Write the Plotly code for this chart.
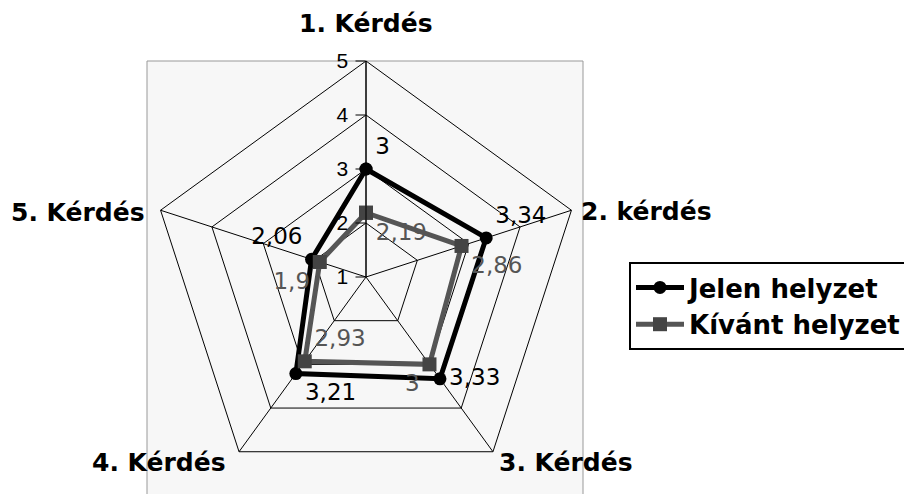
import plotly.graph_objects as go

categories = ["1. Kérdés", "2. kérdés", "3. Kérdés", "4. Kérdés", "5. Kérdés"]
jelen = [3, 3.34, 3.33, 3.21, 2.06]
kivant = [2.19, 2.86, 3, 2.93, 1.9]
radial_ticks = [1, 2, 3, 4, 5]

def fmt(v):
    return f"{v:g}".replace(".", ",")

def closed(vals):
    return list(vals) + [vals[0]]

theta = closed(categories)

fig = go.Figure()

fig.add_trace(go.Scatterpolar(
    r=closed(jelen), theta=theta, name="Jelen helyzet",
    mode="lines+markers+text",
    text=[fmt(v) for v in jelen] + [""],
    textposition=["top right", "top right", "middle right", "bottom right", "top left", "top left"],
    textfont=dict(family="DejaVu Sans", size=23, color="#000000"),
    line=dict(color="#000000", width=5),
    marker=dict(symbol="circle", size=13, color="#000000"),
    cliponaxis=False,
))

fig.add_trace(go.Scatterpolar(
    r=closed(kivant), theta=theta, name="Kívánt helyzet",
    mode="lines+markers+text",
    text=[fmt(v) for v in kivant] + [""],
    textposition=["bottom right", "bottom right", "bottom left", "top right", "bottom left", "bottom left"],
    textfont=dict(family="DejaVu Sans", size=23, color="#555555"),
    line=dict(color="#555555", width=5),
    marker=dict(symbol="square", size=14, color="#444444"),
    cliponaxis=False,
))

W, H = 912, 494
OFF = 8  # page offset of the figure in the screenshot
cx, cy, R = 366 - OFF, 277 - OFF, 216

# category label placement (layout only): (x, y, xanchor, yanchor) in screenshot pixels
label_pos = [(366, 8, "center", "top"), (580, 211, "left", "middle"), (498, 462, "left", "middle"),
             (227, 462, "right", "middle"), (146, 212, "right", "middle")]

annotations = []
for name, (px, py, xa, ya) in zip(categories, label_pos):
    annotations.append(dict(
        text=name, xref="paper", yref="paper",
        x=(px - OFF) / W, y=1 - (py - OFF) / H,
        xanchor=xa, yanchor=ya, showarrow=False, borderpad=0,
        font=dict(family="DejaVu Sans", size=25, color="#000000", weight="bold"),
    ))

fig.update_layout(
    width=W, height=H,
    margin=dict(l=0, r=0, t=0, b=0),
    paper_bgcolor="white",
    plot_bgcolor="white",
    showlegend=True,
    legend=dict(
        x=(629 - OFF) / W, y=1 - (262 - OFF) / H, xanchor="left", yanchor="top",
        bgcolor="white", bordercolor="#000000", borderwidth=2,
        font=dict(family="DejaVu Sans", size=26, color="#000000", weight="bold"),
        itemwidth=48, tracegroupgap=0,
    ),
    annotations=annotations,
    shapes=[dict(
        type="rect", xref="paper", yref="paper",
        x0=(147 - OFF) / W, x1=(583 - OFF) / W, y0=-0.05, y1=1 - (61 - OFF) / H,
        fillcolor="#f7f7f7", line=dict(color="#999999", width=1), layer="below",
    )],
    polar=dict(
        domain=dict(x=[(cx - R) / W, (cx + R) / W], y=[(H - cy - R) / H, (H - cy + R) / H]),
        bgcolor="rgba(0,0,0,0)",
        gridshape="linear",
        radialaxis=dict(
            range=[1, 5], tickvals=radial_ticks, ticktext=[str(t) for t in radial_ticks],
            angle=90, tickangle=90, side="counterclockwise",
            showline=True, linecolor="#000000", linewidth=1,
            gridcolor="#000000", gridwidth=1,
            ticks="outside", ticklen=10, tickcolor="#000000",
            tickfont=dict(family="Liberation Sans", size=21, color="#000000"),
        ),
        angularaxis=dict(
            rotation=90, direction="clockwise",
            showticklabels=False,
            showline=True, linecolor="#000000", linewidth=1,
            gridcolor="#000000", gridwidth=1, ticks="",
        ),
    ),
)

fig.write_html("out.html")
